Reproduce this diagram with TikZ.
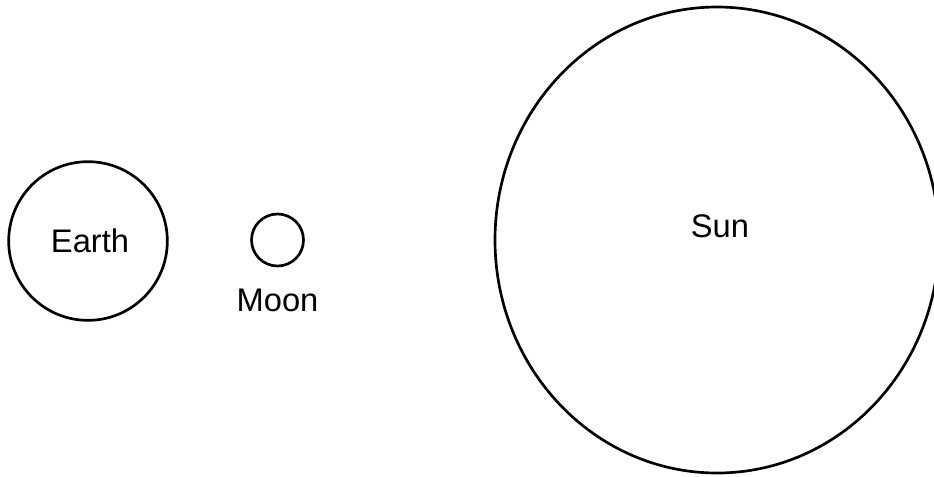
\documentclass[tikz,border=0pt]{standalone}
\usepackage{fontspec}
\setmainfont{Liberation Sans}
\usetikzlibrary{positioning,shapes.geometric}

\begin{document}
\begin{tikzpicture}[
  x=0.75pt, y=-0.75pt,
  font=\fontsize{24.5}{28}\selectfont,
  body/.style={
    draw=black,
    line width=2pt,
    circle,
    inner sep=0pt
  },
  bodylabel/.style={inner sep=0pt}
]
\useasboundingbox (0,0) rectangle (934,476);
\clip (0,0) rectangle (934,476);

% Earth and its moon
\node[body, minimum size=119pt] (earth) at (88,241) {};
\node[bodylabel] (earth-label) at (90,241) {Earth};

\node[body, minimum size=39pt] (moon) at (277.5,240) {};
\node[bodylabel, below=16pt of moon] (moon-label) {Moon};

% Sun
\node[body, ellipse, minimum width=333pt, minimum height=349.5pt] (sun) at (717,240) {};
\node[bodylabel] (sun-label) at (720,226) {Sun};
\end{tikzpicture}
\end{document}
